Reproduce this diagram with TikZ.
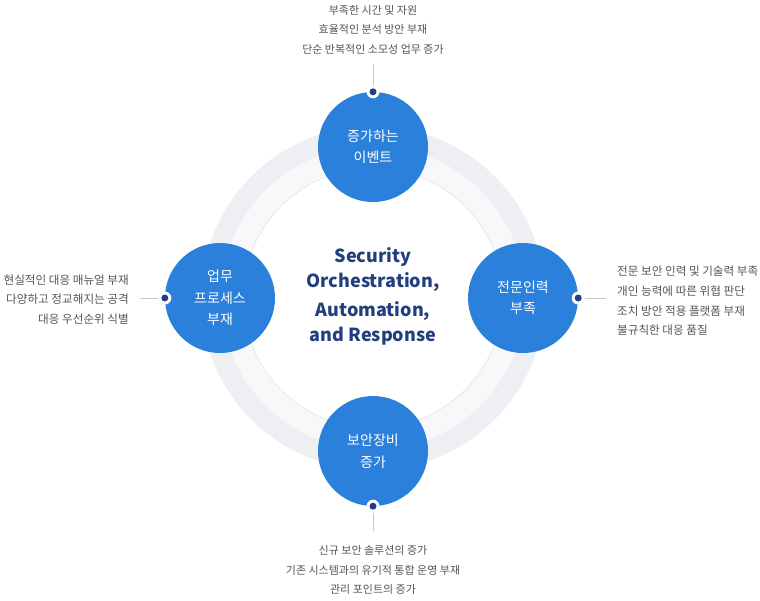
\documentclass[tikz,border=0pt]{standalone}
\usepackage{fontspec}
\setmainfont{Noto Sans CJK KR}
\definecolor{ringout}{HTML}{EEEFF2}
\definecolor{ringin}{HTML}{F7F8FA}
\definecolor{ringline}{HTML}{E6E8EC}
\definecolor{bubble}{HTML}{2A80DA}
\definecolor{navy}{HTML}{1E3F82}
\definecolor{navytext}{HTML}{213F7D}
\definecolor{desc}{HTML}{555555}
\definecolor{lead}{HTML}{C8C8C8}
\tikzset{
  bubblenode/.style={circle, fill=bubble, minimum size=110pt, inner sep=0pt,
    text=white, align=center, font=\fontsize{14}{21.5}\selectfont},
  halo/.style={circle, fill=white, minimum size=13pt, inner sep=0pt},
  dotnode/.style={circle, fill=navy, minimum size=7pt, inner sep=0pt},
  desctext/.style={text=desc, font=\fontsize{11}{19.6}\selectfont, inner sep=0pt},
  sidetext/.style={text=desc, font=\fontsize{11.6}{19.6}\selectfont, inner sep=0pt},
  leadline/.style={draw=lead, line width=0.8pt},
  titletext/.style={text=navytext, font=\fontsize{18}{25}\selectfont\bfseries, align=center, inner sep=0pt}
}
\begin{document}
\begin{tikzpicture}[x=1pt,y=-1pt]
\useasboundingbox (0,0) rectangle (760,600);
% rings
\coordinate (c) at (373,298);
\fill[ringout] (c) circle (172);
\fill[ringin] (c) circle (152);
\draw[ringline, fill=white, line width=0.8pt] (c) circle (130);
% bubbles
\node[bubblenode] (top) at (373,147) {증가하는\\이벤트};
\node[bubblenode] (left) at (220,298) {업무\\프로세스\\부재};
\node[bubblenode] (right) at (523,298) {전문인력\\부족};
\node[bubblenode] (bot) at (373,451) {보안장비\\증가};
% center text
\node[titletext] (title) at (373,270) {Security\\Orchestration,};
\node[titletext] (title2) at (373,323) {Automation,\\and Response};
% halos and dots
\node[halo] (toph) at (top.north) {};
\node[halo] (lefth) at (left.west) {};
\node[halo] (righth) at (right.east) {};
\node[halo] (both) at (bot.south) {};
\node[dotnode] (topd) at (top.north) {};
\node[dotnode] (leftd) at (left.west) {};
\node[dotnode] (rightd) at (right.east) {};
\node[dotnode] (botd) at (bot.south) {};
% lead lines
\coordinate (topend) at (373,64);
\coordinate (leftend) at (140,298);
\coordinate (rightend) at (606,298);
\coordinate (botend) at (373,531);
\draw[leadline] (toph) -- (topend);
\draw[leadline] (lefth) -- (leftend);
\draw[leadline] (righth) -- (rightend);
\draw[leadline] (both) -- (botend);
% descriptions
\node[desctext, align=center] (toptext) at (373,29.5) {부족한 시간 및 자원\\효율적인 분석 방안 부재\\단순 반복적인 소모성 업무 증가};
\node[sidetext, align=right, anchor=east] (lefttext) at (129,299.5) {현실적인 대응 매뉴얼 부재\\다양하고 정교해지는 공격\\대응 우선순위 식별};
\node[sidetext, align=left, anchor=west] (righttext) at (617,301) {전문 보안 인력 및 기술력 부족\\개인 능력에 따른 위협 판단\\조치 방안 적용 플랫폼 부재\\불규칙한 대응 품질};
\node[desctext, align=center] (bottext) at (373,570) {신규 보안 솔루션의 증가\\기존 시스템과의 유기적 통합 운영 부재\\관리 포인트의 증가};
\end{tikzpicture}
\end{document}
